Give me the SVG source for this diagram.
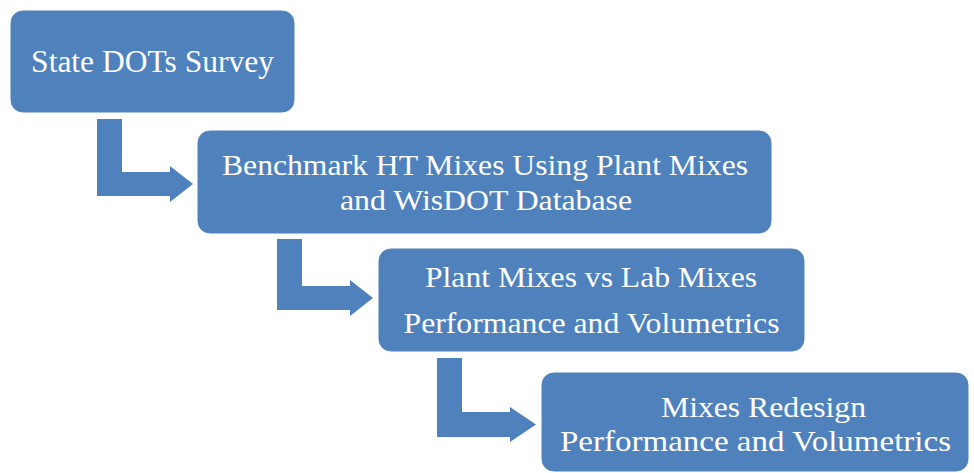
<svg xmlns="http://www.w3.org/2000/svg" width="974" height="473" viewBox="0 0 974 473">
<style>
.box{fill:#4F81BD;stroke:#ffffff;stroke-width:1}
.arrow{fill:#4F81BD}
text{font-family:'Liberation Serif','Times New Roman',Times,serif;font-size:30px;fill:#ffffff;text-anchor:middle}
</style>
<rect width="974" height="473" fill="#ffffff"/>
<g id="connectors">
<path class="arrow" d="M97,119 H122 V172 H170 V166 L193,184 L170,202 V196 H97 Z"/>
<path class="arrow" d="M277,239 H302 V286 H350 V280 L373,298 L350,316 V310 H277 Z"/>
<path class="arrow" d="M437,358 H462 V412 H510 V407 L536,424.5 L510,442 V437 H437 Z"/>
</g>
<g id="node1">
<rect class="box" x="10" y="10" width="285" height="103" rx="13"/>
<text x="152.5" y="72" style="font-size:31.5px">State DOTs Survey</text>
</g>
<g id="node2">
<rect class="box" x="197" y="130" width="575" height="104" rx="13"/>
<text x="485" y="175" textLength="526" lengthAdjust="spacingAndGlyphs">Benchmark HT Mixes Using Plant Mixes</text>
<text x="486" y="210" textLength="292" lengthAdjust="spacingAndGlyphs">and WisDOT Database</text>
</g>
<g id="node3">
<rect class="box" x="378" y="248" width="427" height="104" rx="13"/>
<text x="591" y="287" textLength="332" lengthAdjust="spacingAndGlyphs">Plant Mixes vs Lab Mixes</text>
<text x="591.5" y="333" textLength="376" lengthAdjust="spacingAndGlyphs">Performance and Volumetrics</text>
</g>
<g id="node4">
<rect class="box" x="541" y="372" width="428" height="100" rx="13"/>
<text x="763.5" y="417" textLength="205" lengthAdjust="spacingAndGlyphs">Mixes Redesign</text>
<text x="755.5" y="451" textLength="391" lengthAdjust="spacingAndGlyphs">Performance and Volumetrics</text>
</g>
</svg>
